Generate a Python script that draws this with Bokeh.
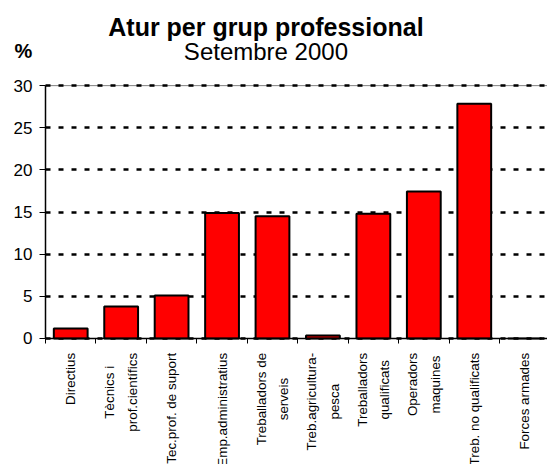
import math
from bokeh.plotting import figure
from bokeh.models import Range1d, FixedTicker, Label
from bokeh.embed import file_html
from bokeh.resources import INLINE

title_text = "Atur per grup professional"
subtitle_text = "Setembre 2000"
unit_text = "%"

categories = [
    "Directius",
    "Tècnics i\nprof.científics",
    "Tec.prof. de suport",
    "Emp.administratius",
    "Treballadors de\nserveis",
    "Treb.agricultura-\npesca",
    "Treballadors\nqualificats",
    "Operadors\nmaquines",
    "Treb. no qualificats",
    "Forces armades",
]
values = [1.2, 3.8, 5.1, 14.9, 14.5, 0.35, 14.8, 17.45, 27.85, 0.0]
y_ticks = [0, 5, 10, 15, 20, 25, 30]

FONT = "Liberation Sans"
n = len(categories)
centers = [i + 0.5 for i in range(n)]
bounds = list(range(n + 1))

# frame covers the whole canvas; axes drawn at fixed locations
p = figure(width=547, height=464, output_backend="svg", toolbar_location=None,
           x_range=Range1d(-0.892, 9.952), y_range=Range1d(-14.95, 40.1),
           min_border=0)
p.outline_line_color = None
p.background_fill_color = "white"
p.border_fill_color = "white"

# grid (only across plot area)
p.xgrid.grid_line_color = None
p.ygrid.ticker = FixedTicker(ticks=y_ticks)
p.ygrid.grid_line_color = "black"
p.ygrid.grid_line_width = 2.5
p.ygrid.grid_line_dash = "5 8"
p.ygrid.cross_bounds = (0, n)

# thin grey top border of plot area
p.segment(x0=[0], y0=[y_ticks[-1]], x1=[n], y1=[y_ticks[-1]],
          line_color="#808080", line_width=1, level="underlay")

p.vbar(x=centers, top=values, bottom=0, width=0.67, fill_color="#FF0000",
       line_color="black", line_width=2)

# y axis
p.yaxis.fixed_location = 0
p.yaxis.bounds = (y_ticks[0], y_ticks[-1])
p.yaxis.ticker = FixedTicker(ticks=y_ticks)
p.yaxis.major_tick_in = 0
p.yaxis.major_tick_out = 6
p.yaxis.minor_tick_line_color = None
p.yaxis.axis_line_color = "black"
p.yaxis.axis_line_width = 1.5
p.yaxis.major_tick_line_color = "black"
p.yaxis.major_tick_line_width = 1
p.yaxis.major_label_standoff = 7
p.yaxis.major_label_text_font = FONT
p.yaxis.major_label_text_font_size = "17px"
p.yaxis.major_label_text_color = "black"

# x axis: ticks at category boundaries, no numeric labels
p.xaxis.fixed_location = 0
p.xaxis.bounds = (0, n)
p.xaxis.ticker = FixedTicker(ticks=bounds)
p.xaxis.major_label_overrides = {b: "" for b in bounds}
p.xaxis.major_tick_in = 0
p.xaxis.major_tick_out = 5
p.xaxis.minor_tick_line_color = None
p.xaxis.axis_line_color = "black"
p.xaxis.axis_line_width = 1.5
p.xaxis.major_tick_line_color = "black"
p.xaxis.major_label_text_font_size = "1px"

# category labels (vertical, below the axis)
for c, lab in zip(centers, categories):
    p.add_layout(Label(x=c, y=-1.7, text=lab, angle=math.pi / 2, anchor="center_right",
                       text_align="center", text_font=FONT, text_font_size="13.4px",
                       text_line_height=1.5, text_color="black"))

# titles
p.add_layout(Label(x=4.37, y=37.0, text=title_text, text_align="center",
                   text_baseline="alphabetic", text_font=FONT, text_font_size="25px",
                   text_font_style="bold", text_color="black"))
p.add_layout(Label(x=4.37, y=34.1, text=subtitle_text, text_align="center",
                   text_baseline="alphabetic", text_font=FONT, text_font_size="24px",
                   text_color="black"))
p.add_layout(Label(x=-0.613, y=34.1, text=unit_text, text_align="left",
                   text_baseline="alphabetic", text_font=FONT, text_font_size="20px",
                   text_font_style="bold", text_color="black"))

open("out.html", "w").write(file_html(p, INLINE))
